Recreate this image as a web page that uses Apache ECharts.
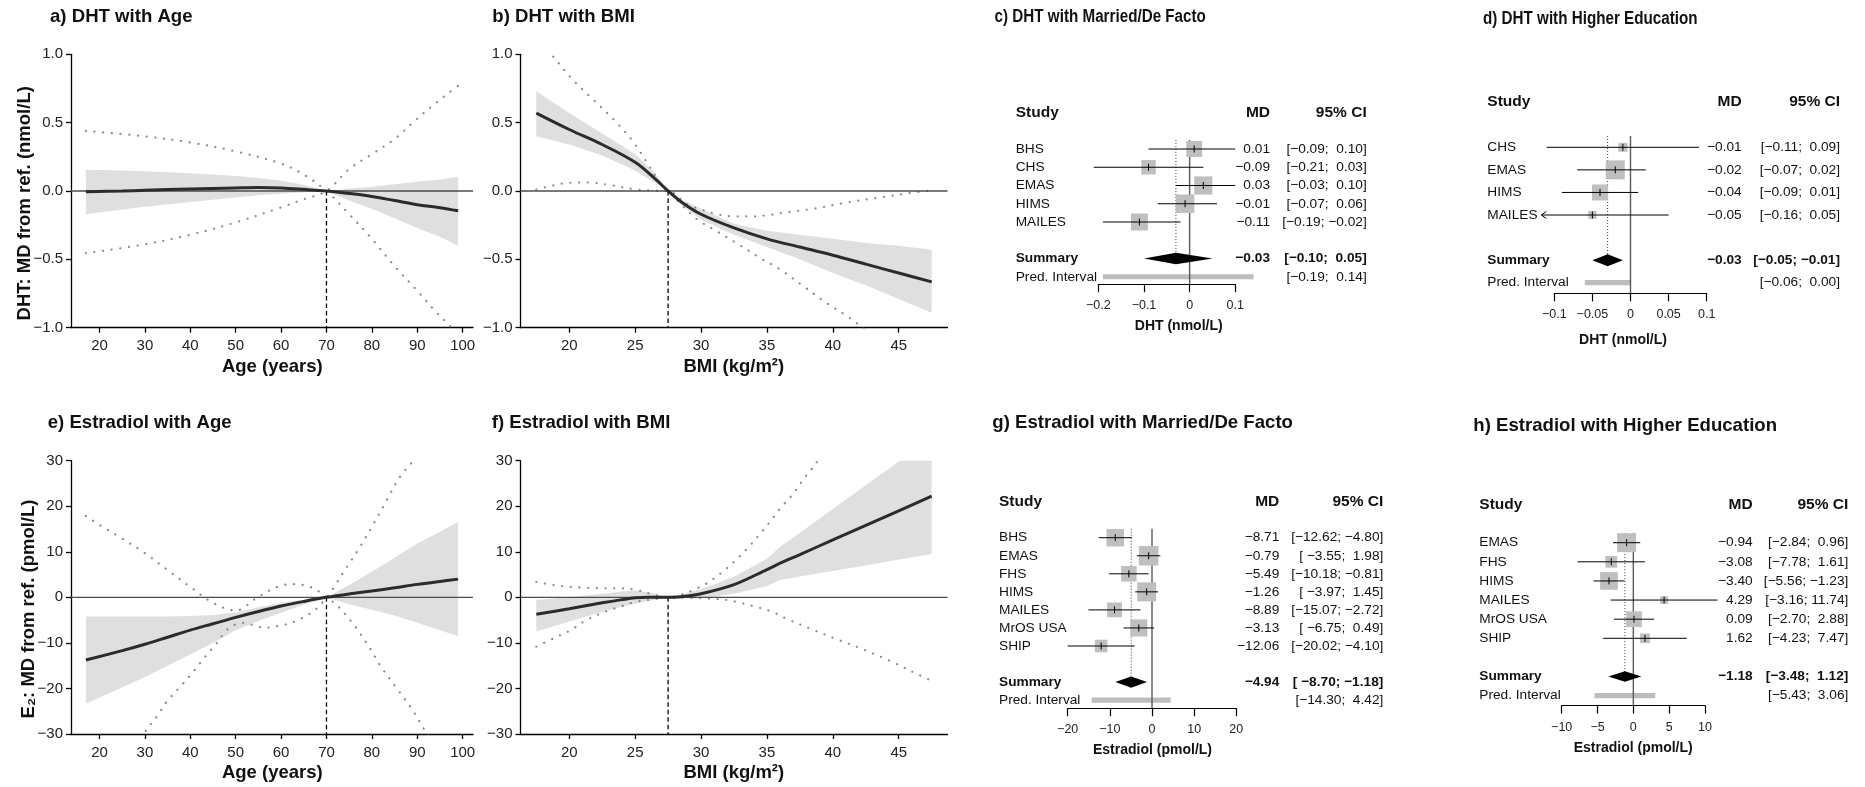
<!DOCTYPE html>
<html>
<head>
<meta charset="utf-8">
<title>DHT and Estradiol: associations with age, BMI, marital status and education</title>
<script src="https://cdn.jsdelivr.net/npm/echarts@6/dist/echarts.min.js"></script>
<style>
  html, body { margin: 0; padding: 0; background: #ffffff; }
  #chart { width: 1865px; height: 787px; }
</style>
</head>
<body>
<div id="chart"></div>
<script>
// ---------------- a) DHT with Age ----------------
const dhtAgeX      = [17, 25, 30, 40, 50, 55, 60, 65, 70, 75, 80, 85, 90, 95, 99];
const dhtAgeFit    = [-0.005, 0.0, 0.005, 0.015, 0.022, 0.025, 0.022, 0.012, 0, -0.018, -0.04, -0.07, -0.10, -0.122, -0.145];
const dhtAgeCiUp   = [0.155, 0.15, 0.145, 0.13, 0.11, 0.095, 0.075, 0.045, 0, 0.018, 0.032, 0.05, 0.068, 0.085, 0.105];
const dhtAgeCiLo   = [-0.17, -0.135, -0.115, -0.08, -0.048, -0.032, -0.02, -0.009, 0, -0.07, -0.13, -0.2, -0.27, -0.335, -0.40];
const dhtAgePiAX   = [17, 30, 40, 50, 60, 65, 70, 75, 80, 85, 90, 94, 97, 99];
const dhtAgePiA    = [0.44, 0.40, 0.355, 0.29, 0.20, 0.12, 0, -0.17, -0.35, -0.55, -0.73, -0.88, -0.98, -1.05];
const dhtAgePiBX   = [17, 30, 40, 50, 60, 65, 70, 75, 80, 85, 90, 94, 97, 99];
const dhtAgePiB    = [-0.455, -0.39, -0.32, -0.23, -0.12, -0.06, 0, 0.16, 0.27, 0.38, 0.53, 0.64, 0.72, 0.77];

// ---------------- b) DHT with BMI ----------------
const dhtBmiX      = [17.5, 20, 22.5, 25, 26.5, 27.5, 28.5, 30, 32.5, 35, 37.5, 40, 42.5, 45, 47.5];
const dhtBmiFit    = [0.57, 0.45, 0.34, 0.21, 0.09, 0, -0.08, -0.17, -0.27, -0.35, -0.41, -0.47, -0.535, -0.60, -0.665];
const dhtBmiCiUp   = [0.73, 0.57, 0.42, 0.27, 0.13, 0, -0.06, -0.13, -0.24, -0.29, -0.32, -0.35, -0.38, -0.40, -0.43];
const dhtBmiCiLo   = [0.40, 0.34, 0.26, 0.15, 0.06, 0, -0.10, -0.21, -0.32, -0.41, -0.50, -0.60, -0.69, -0.79, -0.89];
const dhtBmiPiAX   = [17.5, 18.9, 20.3, 21.8, 23.4, 24.9, 25.9, 26.9, 27.5, 28.5, 29.7, 31.3, 33, 34.5, 36, 37.75, 39.5, 41.3, 42.5];
const dhtBmiPiA    = [1.13, 0.97, 0.81, 0.67, 0.52, 0.354, 0.207, 0.06, 0, -0.10, -0.207, -0.30, -0.40, -0.49, -0.574, -0.695, -0.817, -0.93, -1.02];
const dhtBmiPiBX   = [17.5, 18.5, 20, 21.5, 23, 25, 26.5, 27.5, 29, 30, 31, 32.5, 34, 35, 36.5, 38.5, 41, 43.5, 45.5, 47.5];
const dhtBmiPiB    = [0.01, 0.035, 0.06, 0.062, 0.045, 0.012, 0.003, 0, -0.10, -0.135, -0.165, -0.185, -0.185, -0.178, -0.155, -0.13, -0.085, -0.048, -0.02, 0.005];

// ---------------- e) Estradiol with Age ----------------
const e2AgeX       = [17, 25, 30, 35, 40, 45, 50, 55, 60, 65, 70, 75, 80, 85, 90, 95, 99];
const e2AgeFit     = [-13.75, -11.7, -10.3, -8.75, -7.2, -5.8, -4.4, -3.1, -1.9, -0.9, 0, 0.75, 1.4, 2.1, 2.85, 3.5, 4.0];
const e2AgeCiUp    = [-4.2, -4.2, -4.2, -4.2, -4.1, -3.9, -3.3, -2.2, -1.2, -0.5, 0, 2.7, 5.6, 8.7, 11.8, 14.4, 16.6];
const e2AgeCiLo    = [-23.3, -19.8, -17.5, -15.0, -12.5, -10.0, -7.2, -5.2, -3.4, -1.6, 0, -1.5, -2.7, -4.0, -5.6, -7.2, -8.5];
const e2AgePiAX    = [17, 20, 25, 30, 35, 40, 45, 50, 55, 60, 63, 65, 67.5, 70, 72.3, 75.2, 77.4, 79.6, 81.8, 85.5, 89.2, 91.4, 93];
const e2AgePiA     = [17.9, 15.9, 12.9, 9.7, 6.0, 2.3, -1.2, -2.9, 0.15, 2.6, 2.9, 2.7, 1.8, 0, -1.7, -5, -7.9, -11.2, -14.9, -20, -25.1, -28.8, -31];
const e2AgePiBX    = [28, 30.1, 32.9, 34.8, 37.8, 40.7, 43.3, 45.8, 48, 50.1, 52.1, 54.3, 56.5, 58.3, 60.5, 64.2, 67.9, 70, 71.5, 74.5, 77.4, 80.4, 83.3, 86.2, 89.2, 91];
const e2AgePiB     = [-32.5, -29.5, -25.8, -22.9, -19.6, -16.3, -13, -10.1, -7.2, -5.9, -5.6, -6.3, -6.7, -6.4, -6.1, -4.8, -2.4, 0, 2.0, 6.7, 11.1, 16.2, 21.4, 26.5, 30.1, 33];

// ---------------- f) Estradiol with BMI ----------------
const e2BmiX       = [17.5, 20, 22.5, 24, 25, 26, 27.5, 28.5, 30, 32.5, 35, 36, 37.5, 40, 42.5, 45, 47.5];
const e2BmiFit     = [-3.7, -2.5, -1.2, -0.5, -0.1, 0.0, 0, 0.15, 0.8, 2.8, 6.1, 7.5, 9.4, 12.6, 15.8, 19.0, 22.2];
const e2BmiCiUp    = [-0.6, 0.0, 0.8, 1.3, 1.5, 1.1, 0, 0.6, 1.8, 4.5, 8.5, 11.1, 14.2, 19.4, 24.6, 29.8, 35];
const e2BmiCiLo    = [-7.5, -5.3, -3.2, -2.0, -1.4, -0.8, 0, -0.2, -0.2, 0.8, 2.5, 3.8, 4.6, 5.8, 7.0, 8.3, 9.5];
const e2BmiPiAX    = [17.5, 18.8, 20.1, 21.3, 22.6, 23.9, 25.1, 26.4, 27.5, 29, 30.5, 32, 33, 34.2, 35.5, 36.4, 38.4, 40.3, 42.3, 44.3, 46.8, 47.5];
const e2BmiPiA     = [3.4, 2.7, 2.3, 2.1, 2.0, 2.0, 1.6, 0.6, 0, -0.1, -0.25, -0.6, -1.2, -2.1, -3.3, -4.6, -7.0, -9.2, -11.4, -13.9, -17.4, -18.3];
const e2BmiPiBX    = [17.5, 18.8, 20.1, 21.3, 22.6, 23.9, 25.1, 26.4, 27.5, 28.5, 29.5, 30.5, 31.5, 32.5, 33.5, 34.5, 35.5, 36, 36.5, 37, 37.4, 37.8, 38.3, 38.7, 39.2];
const e2BmiPiB     = [-10.8, -9.0, -7.2, -5.0, -3.3, -2.0, -0.95, -0.4, 0, 0.6, 1.7, 3.2, 5.3, 7.8, 10.7, 14.0, 17.6, 19.5, 21.1, 22.8, 24.4, 26.1, 27.8, 29.4, 31.2];

// ---------------- c) DHT with Married/De Facto ----------------
const dhtMarStudies = ['BHS', 'CHS', 'EMAS', 'HIMS', 'MAILES'];
const dhtMarMD      = [0.01, -0.09, 0.03, -0.01, -0.11];
const dhtMarLo      = [-0.09, -0.21, -0.03, -0.07, -0.19];
const dhtMarHi      = [0.10, 0.03, 0.10, 0.06, -0.02];
const dhtMarWeight  = [17.7, 14.7, 23.3, 24.1, 20.2];
const dhtMarSummary = [-0.03, -0.10, 0.05];
const dhtMarPred    = [-0.19, 0.14];
const dhtMarTicks   = [-0.2, -0.1, 0, 0.1];

// ---------------- d) DHT with Higher Education ----------------
const dhtEduStudies = ['CHS', 'EMAS', 'HIMS', 'MAILES'];
const dhtEduMD      = [-0.01, -0.02, -0.04, -0.05];
const dhtEduLo      = [-0.11, -0.07, -0.09, -0.16];
const dhtEduHi      = [0.09, 0.02, 0.01, 0.05];
const dhtEduWeight  = [10.6, 47.4, 33.6, 8.4];
const dhtEduSummary = [-0.03, -0.05, -0.01];
const dhtEduPred    = [-0.06, 0.00];
const dhtEduTicks   = [-0.1, -0.05, 0, 0.05, 0.1];

// ---------------- g) Estradiol with Married/De Facto ----------------
const e2MarStudies = ['BHS', 'EMAS', 'FHS', 'HIMS', 'MAILES', 'MrOS USA', 'SHIP'];
const e2MarMD      = [-8.71, -0.79, -5.49, -1.26, -8.89, -3.13, -12.06];
const e2MarLo      = [-12.62, -3.55, -10.18, -3.97, -15.07, -6.75, -20.02];
const e2MarHi      = [-4.80, 1.98, -0.81, 1.45, -2.72, 0.49, -4.10];
const e2MarWeight  = [15.6, 19.4, 12.3, 18.6, 11.2, 14.9, 8.0];
const e2MarSummary = [-4.94, -8.70, -1.18];
const e2MarPred    = [-14.30, 4.42];
const e2MarTicks   = [-20, -10, 0, 10, 20];

// ---------------- h) Estradiol with Higher Education ----------------
const e2EduStudies = ['EMAS', 'FHS', 'HIMS', 'MAILES', 'MrOS USA', 'SHIP'];
const e2EduMD      = [-0.94, -3.08, -3.40, 4.29, 0.09, 1.62];
const e2EduLo      = [-2.84, -7.78, -5.56, -3.16, -2.70, -4.23];
const e2EduHi      = [0.96, 1.61, -1.23, 11.74, 2.88, 7.47];
const e2EduWeight  = [29.8, 11.3, 25.9, 4.9, 20.3, 7.8];
const e2EduSummary = [-1.18, -3.48, 1.12];
const e2EduPred    = [-5.43, 3.06];
const e2EduTicks   = [-10, -5, 0, 5, 10];

const ageTicks = [20, 30, 40, 50, 60, 70, 80, 90, 100];
const bmiTicks = [20, 25, 30, 35, 40, 45];

// ------------------------------------------------------------
const FONT = '"Liberation Sans", Arial, Helvetica, sans-serif';
const INK = '#111111';
const withMinus = s => String(s).replace(/-/g, '\u2212');
const pairs = (xs, ys) => xs.map((x, i) => [x, ys[i]]);

const grid = [], xAxis = [], yAxis = [], series = [], elements = [];

function addCurvePanel(p) {
  const g = grid.length;
  const axisStyle = { color: '#000', width: 1.3 };
  grid.push({ left: p.left, top: p.top, width: p.width, height: p.height, outerBoundsMode: 'none' });
  xAxis.push({
    gridIndex: g, type: 'value', min: p.xMin, max: p.xMax,
    axisLine: { show: true, onZero: false, lineStyle: axisStyle },
    axisTick: { show: true, length: 5, customValues: p.xTicks, lineStyle: axisStyle },
    axisLabel: { show: true, customValues: p.xTicks, margin: 11, fontSize: 15, fontFamily: FONT, color: '#222',
                 formatter: v => withMinus(v) },
    splitLine: { show: false }
  });
  yAxis.push({
    gridIndex: g, type: 'value', min: p.yMin, max: p.yMax, interval: p.yStep,
    axisLine: { show: true, onZero: false, lineStyle: axisStyle },
    axisTick: { show: true, length: 5, lineStyle: axisStyle },
    axisLabel: { margin: 8, fontSize: 15, fontFamily: FONT, color: '#222',
                 formatter: v => withMinus(Number(v).toFixed(p.yDec)) },
    splitLine: { show: false }
  });
  const base = { xAxisIndex: g, yAxisIndex: g, silent: true };
  // confidence band
  series.push(Object.assign({}, base, {
    type: 'custom', clip: true, z: 1, data: [[p.x[0], p.fit[0]]],
    renderItem: (params, api) => {
      const upper = p.x.map((x, i) => api.coord([x, p.up[i]]));
      const lower = p.x.map((x, i) => api.coord([x, p.lo[i]])).reverse();
      return { type: 'polygon', shape: { points: upper.concat(lower) }, style: { fill: '#DFDFDF' } };
    }
  }));
  // prediction interval curves
  [p.piA, p.piB].forEach(d => series.push(Object.assign({}, base, {
    type: 'line', z: 2, data: d, symbol: 'none', smooth: 0.35,
    lineStyle: { color: '#8a8a8a', width: 2.2, type: [0.1, 8.6], cap: 'round' }
  })));
  // null line at zero difference
  series.push(Object.assign({}, base, {
    type: 'line', z: 3, data: [[p.xMin, 0], [p.xMax, 0]], symbol: 'none',
    lineStyle: { color: '#4d4d4d', width: 1.3 }
  }));
  // reference value
  series.push(Object.assign({}, base, {
    type: 'line', z: 3, data: [[p.ref, 0], [p.ref, p.yMin]], symbol: 'none',
    lineStyle: { color: '#000', width: 1.3, type: [4.5, 3] }
  }));
  // fitted curve
  series.push(Object.assign({}, base, {
    type: 'line', z: 4, data: pairs(p.x, p.fit), symbol: 'none', smooth: 0.35,
    lineStyle: { color: '#2b2b2b', width: 3 }
  }));
}

function ciLabels(los, his) {
  const L = los.map(v => v.toFixed(2)), U = his.map(v => v.toFixed(2));
  const wl = Math.max(...L.map(s => s.length)), wu = Math.max(...U.map(s => s.length));
  return L.map((l, i) => withMinus('[' + l.padStart(wl) + '; ' + U[i].padStart(wu) + ']'));
}

function addForest(f) {
  const g = grid.length;
  const n = f.studies.length;
  const sumRow = n + 2, predRow = n + 3, axisRow = predRow + f.axisGap;
  const wMax = Math.max(...f.weight);
  const ci = ciLabels(f.lo.concat([f.summary[1], f.pred[0]]), f.hi.concat([f.summary[2], f.pred[1]]));
  const ticks = f.ticks;
  grid.push({ left: f.left, top: f.firstY - f.pitch / 2, width: f.width, height: (axisRow - 0.5) * f.pitch, outerBoundsMode: 'none' });
  xAxis.push({
    gridIndex: g, type: 'value', min: ticks[0], max: ticks[ticks.length - 1],
    axisLine: { show: true, onZero: false, lineStyle: { color: '#000', width: 1.2 } },
    axisTick: { show: true, length: 8, customValues: ticks, lineStyle: { color: '#000', width: 1.2 } },
    axisLabel: { customValues: ticks, margin: 15, fontSize: 12.5, fontFamily: FONT, color: '#222',
                 formatter: v => withMinus(+Number(v).toFixed(3)) },
    splitLine: { show: false }
  });
  yAxis.push({ gridIndex: g, type: 'value', inverse: true, min: 0.5, max: axisRow, show: false });
  const base = { xAxisIndex: g, yAxisIndex: g, silent: true };

  // prediction interval bar
  series.push(Object.assign({}, base, {
    type: 'custom', z: 1, data: [[f.pred[0], predRow, f.pred[1]]],
    renderItem: (params, api) => {
      const a = api.coord([f.pred[0], predRow]), b = api.coord([f.pred[1], predRow]);
      return { type: 'rect', shape: { x: a[0], y: a[1] - 2.6, width: b[0] - a[0], height: 5.2 }, style: { fill: '#BDBDBD' } };
    }
  }));
  // line of no effect
  series.push(Object.assign({}, base, {
    type: 'line', z: 2, data: [[0, 0.5], [0, axisRow]], symbol: 'none',
    lineStyle: { color: '#5a5a5a', width: 1.4 }
  }));
  // pooled estimate guide
  series.push(Object.assign({}, base, {
    type: 'line', z: 2, data: [[f.summary[0], 0.5], [f.summary[0], sumRow]], symbol: 'none',
    lineStyle: { color: '#333', width: 1, type: [1, 2] }
  }));

  const text = (s, x, y, o) => ({
    type: 'text', x: x, y: y,
    style: { text: s, fill: INK, fontFamily: FONT, fontSize: (o && o.size) || 13.7,
             fontWeight: (o && o.bold) ? 'bold' : 'normal', align: (o && o.align) || 'left', verticalAlign: 'middle' }
  });

  const rowsData = f.md.map((m, i) => [m, i + 1, f.lo[i], f.hi[i]])
    .concat([[f.summary[0], sumRow, f.summary[1], f.summary[2]], [0, predRow, 0, 0], [0, -1, 0, 0]]);

  series.push(Object.assign({}, base, {
    type: 'custom', z: 3, data: rowsData,
    renderItem: (params, api) => {
      const i = params.dataIndex;
      const kids = [];
      if (i < n) {
        const row = i + 1;
        const pe = api.coord([f.md[i], row]);
        const y = pe[1];
        let lo = f.lo[i], clipped = false;
        if (f.clipLo !== undefined && lo < f.clipLo) { lo = f.clipLo; clipped = true; }
        const xl = api.coord([lo, row])[0], xu = api.coord([f.hi[i], row])[0];
        const s = f.box * Math.sqrt(f.weight[i] / wMax);
        kids.push({ type: 'rect', shape: { x: pe[0] - s / 2, y: y - s / 2, width: s, height: s }, style: { fill: '#BFBFBF' } });
        kids.push({ type: 'line', shape: { x1: xl, y1: y, x2: xu, y2: y }, style: { stroke: '#000', lineWidth: 1 } });
        kids.push({ type: 'line', shape: { x1: pe[0], y1: y - 3.5, x2: pe[0], y2: y + 3.5 }, style: { stroke: '#000', lineWidth: 1 } });
        if (clipped) {
          kids.push({ type: 'polyline', shape: { points: [[xl + 5, y - 3.5], [xl, y], [xl + 5, y + 3.5]] },
                      style: { stroke: '#000', lineWidth: 1, fill: 'none' } });
        }
        kids.push(text(f.studies[i], f.labelX, y));
        kids.push(text(withMinus(f.md[i].toFixed(2)), f.mdX, y, { align: 'right' }));
        kids.push(text(ci[i], f.ciX, y, { align: 'right' }));
      } else if (i === n) {
        const c = api.coord([f.summary[0], sumRow]);
        const l = api.coord([f.summary[1], sumRow])[0], r = api.coord([f.summary[2], sumRow])[0];
        const h = f.diamond;
        kids.push({ type: 'polygon', shape: { points: [[l, c[1]], [c[0], c[1] - h], [r, c[1]], [c[0], c[1] + h]] }, style: { fill: '#000' } });
        kids.push(text('Summary', f.labelX, c[1], { bold: true }));
        kids.push(text(withMinus(f.summary[0].toFixed(2)), f.mdX, c[1], { align: 'right', bold: true }));
        kids.push(text(ci[n], f.ciX, c[1], { align: 'right', bold: true }));
      } else if (i === n + 1) {
        const y = api.coord([0, predRow])[1];
        kids.push(text('Pred. Interval', f.labelX, y));
        kids.push(text(ci[n + 1], f.ciX, y, { align: 'right' }));
      } else {
        const y = api.coord([0, -1])[1];
        kids.push(text('Study', f.labelX, y, { bold: true, size: 15.5 }));
        kids.push(text('MD', f.mdX, y, { bold: true, size: 15.5, align: 'right' }));
        kids.push(text('95% CI', f.ciX, y, { bold: true, size: 15.5, align: 'right' }));
      }
      return { type: 'group', children: kids };
    }
  }));
}

function label(s, x, y, o) {
  o = o || {};
  elements.push({
    type: 'text', x: x, y: y, rotation: o.rotation || 0, scaleX: o.scaleX || 1, silent: true,
    style: { text: s, fill: INK, fontFamily: FONT, fontSize: o.size || 18.6, fontWeight: 'bold',
             align: o.align || 'left', verticalAlign: 'middle' }
  });
}

// ---- curve panels ----
addCurvePanel({ left: 71, top: 54.3, width: 402, height: 273.4, xMin: 13.72, xMax: 102.28, xTicks: ageTicks,
  yMin: -1, yMax: 1, yStep: 0.5, yDec: 1, ref: 70,
  x: dhtAgeX, fit: dhtAgeFit, up: dhtAgeCiUp, lo: dhtAgeCiLo,
  piA: pairs(dhtAgePiAX, dhtAgePiA), piB: pairs(dhtAgePiBX, dhtAgePiB) });
addCurvePanel({ left: 520.5, top: 54.3, width: 427, height: 273.4, xMin: 16.3, xMax: 48.7, xTicks: bmiTicks,
  yMin: -1, yMax: 1, yStep: 0.5, yDec: 1, ref: 27.5,
  x: dhtBmiX, fit: dhtBmiFit, up: dhtBmiCiUp, lo: dhtBmiCiLo,
  piA: pairs(dhtBmiPiAX, dhtBmiPiA), piB: pairs(dhtBmiPiBX, dhtBmiPiB) });
addCurvePanel({ left: 71, top: 460.7, width: 402, height: 273.3, xMin: 13.72, xMax: 102.28, xTicks: ageTicks,
  yMin: -30, yMax: 30, yStep: 10, yDec: 0, ref: 70,
  x: e2AgeX, fit: e2AgeFit, up: e2AgeCiUp, lo: e2AgeCiLo,
  piA: pairs(e2AgePiAX, e2AgePiA), piB: pairs(e2AgePiBX, e2AgePiB) });
addCurvePanel({ left: 520.5, top: 460.7, width: 427, height: 273.3, xMin: 16.3, xMax: 48.7, xTicks: bmiTicks,
  yMin: -30, yMax: 30, yStep: 10, yDec: 0, ref: 27.5,
  x: e2BmiX, fit: e2BmiFit, up: e2BmiCiUp, lo: e2BmiCiLo,
  piA: pairs(e2BmiPiAX, e2BmiPiA), piB: pairs(e2BmiPiBX, e2BmiPiB) });

// ---- forest panels ----
addForest({ left: 1098.3, width: 137, firstY: 149, pitch: 18.25, axisGap: 0.41, ticks: dhtMarTicks,
  labelX: 1015.7, mdX: 1270, ciX: 1366.7, box: 18.5, diamond: 5.8,
  studies: dhtMarStudies, md: dhtMarMD, lo: dhtMarLo, hi: dhtMarHi, weight: dhtMarWeight,
  summary: dhtMarSummary, pred: dhtMarPred });
addForest({ left: 1554.3, width: 152.4, firstY: 147.3, pitch: 22.57, axisGap: 0.47, ticks: dhtEduTicks,
  labelX: 1487.3, mdX: 1741.7, ciX: 1840, box: 19, diamond: 6, clipLo: -0.117,
  studies: dhtEduStudies, md: dhtEduMD, lo: dhtEduLo, hi: dhtEduHi, weight: dhtEduWeight,
  summary: dhtEduSummary, pred: dhtEduPred });
addForest({ left: 1067.7, width: 168.6, firstY: 537.7, pitch: 18.05, axisGap: 0.45, ticks: e2MarTicks,
  labelX: 999, mdX: 1279.3, ciX: 1383.3, box: 19.5, diamond: 5.7,
  studies: e2MarStudies, md: e2MarMD, lo: e2MarLo, hi: e2MarHi, weight: e2MarWeight,
  summary: e2MarSummary, pred: e2MarPred });
addForest({ left: 1561.7, width: 143.3, firstY: 542.7, pitch: 19.12, axisGap: 0.52, ticks: e2EduTicks,
  labelX: 1479.3, mdX: 1752.7, ciX: 1848.3, box: 19, diamond: 5.2,
  studies: e2EduStudies, md: e2EduMD, lo: e2EduLo, hi: e2EduHi, weight: e2EduWeight,
  summary: e2EduSummary, pred: e2EduPred });

// ---- panel titles ----
label('a) DHT with Age', 50, 17.3);
label('b) DHT with BMI', 492.3, 17.3);
label('c) DHT with Married/De Facto', 994.6, 17.3, { size: 18, scaleX: 0.845 });
label('d) DHT with Higher Education', 1483, 19, { size: 18, scaleX: 0.845 });
label('e) Estradiol with Age', 47.7, 423.3);
label('f) Estradiol with BMI', 491.7, 423.3);
label('g) Estradiol with Married/De Facto', 992.3, 422.7);
label('h) Estradiol with Higher Education', 1473.3, 426);

// ---- axis titles ----
label('DHT: MD from ref. (nmol/L)', 25, 203.3, { rotation: Math.PI / 2, align: 'center', size: 18.5 });
label('E\u2082: MD from ref. (pmol/L)', 29.3, 609, { rotation: Math.PI / 2, align: 'center', size: 18.5 });
label('Age (years)', 272.3, 366.7, { align: 'center', size: 18.5 });
label('BMI (kg/m\u00B2)', 733.8, 366.7, { align: 'center', size: 18.5 });
label('Age (years)', 272.3, 773.3, { align: 'center', size: 18.5 });
label('BMI (kg/m\u00B2)', 733.8, 773.3, { align: 'center', size: 18.5 });
label('DHT (nmol/L)', 1178.7, 326, { align: 'center', size: 14 });
label('DHT (nmol/L)', 1623, 340, { align: 'center', size: 14 });
label('Estradiol (pmol/L)', 1152.5, 750, { align: 'center', size: 14 });
label('Estradiol (pmol/L)', 1633.2, 748.3, { align: 'center', size: 14 });

const chart = echarts.init(document.getElementById('chart'), null, { renderer: 'canvas' });
chart.setOption({
  backgroundColor: '#ffffff',
  animation: false,
  grid: grid,
  xAxis: xAxis,
  yAxis: yAxis,
  series: series,
  graphic: { elements: elements }
});
</script>
</body>
</html>
